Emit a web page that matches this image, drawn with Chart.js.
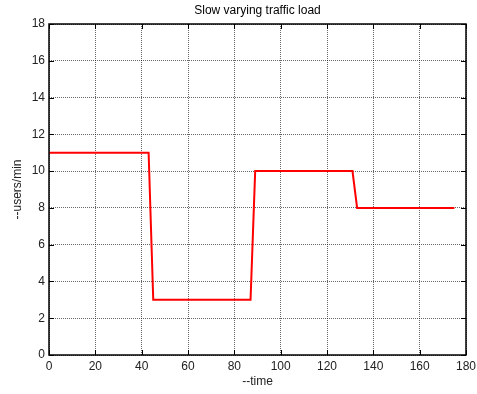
<!DOCTYPE html>
<html>
<head>
<meta charset="utf-8">
<script src="https://cdn.jsdelivr.net/npm/chart.js@4.4.1/dist/chart.umd.min.js"></script>
<style>
  html, body { margin: 0; padding: 0; background: #fff; }
  #wrap { width: 477px; height: 394px; }
</style>
</head>
<body>
<div id="wrap"><canvas id="myChart" width="477" height="394"></canvas></div>
<script>
// step profile of the load
const times = [0, 43, 45, 87, 89, 131, 133, 175];
const usersPerMin = [11, 11, 3, 3, 10, 10, 8, 8];

const xTicks = [0, 20, 40, 60, 80, 100, 120, 140, 160, 180];
const yTicks = [0, 2, 4, 6, 8, 10, 12, 14, 16, 18];

const FONT = 'Liberation Sans, Arial, Helvetica, sans-serif';

// box around the plot with short inward ticks, like matlab
const boxPlugin = {
    id: 'box',
    afterDatasetsDraw(chart) {
        const { ctx, chartArea: a, scales } = chart;
        const len = 5;
        ctx.save();
        ctx.strokeStyle = '#000';
        ctx.lineWidth = 1;
        ctx.beginPath();
        xTicks.forEach(v => {
            const px = Math.round(scales.x.getPixelForValue(v)) + 0.5;
            ctx.moveTo(px, a.bottom); ctx.lineTo(px, a.bottom - len);
            ctx.moveTo(px, a.top); ctx.lineTo(px, a.top + len);
        });
        yTicks.forEach(v => {
            const py = Math.round(scales.y.getPixelForValue(v)) + 0.5;
            ctx.moveTo(a.left, py); ctx.lineTo(a.left + len, py);
            ctx.moveTo(a.right, py); ctx.lineTo(a.right - len, py);
        });
        ctx.stroke();
        ctx.lineWidth = 1.5;
        ctx.strokeRect(a.left, a.top, a.right - a.left, a.bottom - a.top);
        ctx.restore();
    }
};

let context = document.getElementById('myChart');
let chart = new Chart(context, {
    type: 'line',
    data: {
        datasets: [{
            label: 'load',
            data: times.map((t, i) => ({ x: t, y: usersPerMin[i] })),
            borderColor: '#ff0000',
            borderWidth: 2,
            pointRadius: 0,
            fill: false,
            tension: 0
        }]
    },
    options: {
        responsive: false,
        animation: false,
        layout: { padding: { left: 0, right: 11, top: 0, bottom: 0 } },
        plugins: {
            legend: { display: false },
            tooltip: { enabled: false },
            title: {
                display: true,
                fullSize: false,
                text: 'Slow varying traffic load',
                color: '#000',
                font: { family: FONT, size: 12, weight: 'normal', lineHeight: 1.2 },
                padding: { top: 3.5, bottom: 6.1 }
            }
        },
        scales: {
            x: {
                type: 'linear',
                min: 0,
                max: 180,
                afterBuildTicks: s => { s.ticks = xTicks.map(v => ({ value: v })); },
                afterFit: s => { s.height = 39; s.paddingLeft = 0; s.paddingRight = 0; },
                ticks: {
                    color: '#222',
                    padding: 4,
                    maxRotation: 0,
                    font: { family: FONT, size: 12 }
                },
                grid: { color: 'rgba(0,0,0,0.6)', drawTicks: false, lineWidth: 1 },
                border: { display: false, dash: [1, 1] },
                title: {
                    display: true,
                    text: '--time',
                    color: '#222',
                    font: { family: FONT, size: 12 },
                    padding: { top: 0, bottom: 4.8 }
                }
            },
            y: {
                type: 'linear',
                min: 0,
                max: 18,
                afterBuildTicks: s => { s.ticks = yTicks.map(v => ({ value: v })); },
                afterFit: s => { s.width = 49; s.paddingTop = 0; s.paddingBottom = 0; },
                ticks: {
                    color: '#222',
                    padding: 4,
                    font: { family: FONT, size: 12 }
                },
                grid: { color: 'rgba(0,0,0,0.6)', drawTicks: false, lineWidth: 1 },
                border: { display: false, dash: [1, 1] },
                title: {
                    display: true,
                    text: '--users/min',
                    color: '#222',
                    font: { family: FONT, size: 12 },
                    padding: { top: 10.8, bottom: 0 }
                }
            }
        }
    },
    plugins: [boxPlugin]
});
</script>
</body>
</html>
